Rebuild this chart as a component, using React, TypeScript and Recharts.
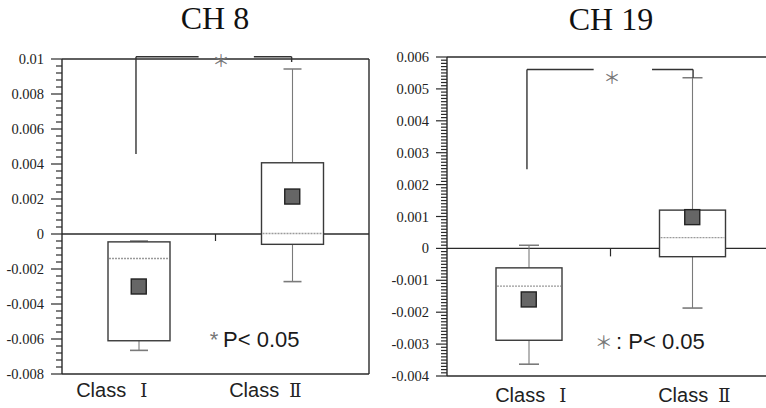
import React from 'react';
import {
  ComposedChart,
  Bar,
  Scatter,
  XAxis,
  YAxis,
  ReferenceLine,
  ReferenceDot,
  CartesianGrid,
} from 'recharts';

// ---------- data ----------
const categories = ['Class Ⅰ', 'Class Ⅱ'];
const categoryCenters = [0.5, 1.5];

// CH 8
const ch8Min = [-0.00665, -0.00272];
const ch8Q1 = [-0.0061, -0.00059];
const ch8Median = [-0.0014, 0.00003];
const ch8Q3 = [-0.00045, 0.00407];
const ch8Max = [-0.0004, 0.00943];
const ch8Mean = [-0.003, 0.00214];
const ch8Ticks = [0.01, 0.008, 0.006, 0.004, 0.002, 0, -0.002, -0.004, -0.006, -0.008];
const ch8TickLabels = ['0.01', '0.008', '0.006', '0.004', '0.002', '0', '-0.002', '-0.004', '-0.006', '-0.008'];

// CH 19
const ch19Min = [-0.00363, -0.00187];
const ch19Q1 = [-0.00288, -0.00026];
const ch19Median = [-0.00118, 0.00034];
const ch19Q3 = [-0.00061, 0.0012];
const ch19Max = [0.0001, 0.00535];
const ch19Mean = [-0.0016, 0.00098];
const ch19Ticks = [0.006, 0.005, 0.004, 0.003, 0.002, 0.001, 0, -0.001, -0.002, -0.003, -0.004];
const ch19TickLabels = ['0.006', '0.005', '0.004', '0.003', '0.002', '0.001', '0', '-0.001', '-0.002', '-0.003', '-0.004'];

const DARK = '#2a2a2a';
const GRAY = '#7a7a7a';

function buildRows(mn: number[], q1: number[], md: number[], q3: number[], mx: number[], mean: number[]) {
  return categories.map((name, i) => ({
    name,
    pos: categoryCenters[i],
    min: mn[i],
    q1: q1[i],
    median: md[i],
    q3: q3[i],
    max: mx[i],
    mean: mean[i],
    range: [mn[i], mx[i]],
  }));
}

function withMinor(majors: number[], sub: number) {
  const sorted = [...majors].sort((a, b) => a - b);
  const out: number[] = [];
  for (let i = 0; i < sorted.length - 1; i++) {
    const a = sorted[i];
    const b = sorted[i + 1];
    for (let k = 0; k < sub; k++) out.push(a + ((b - a) * k) / sub);
  }
  out.push(sorted[sorted.length - 1]);
  return out;
}

const YTick = (props: any) => {
  const { x, y, payload, majors, labels } = props;
  const v = payload.value;
  const idx = majors.findIndex((m: number) => Math.abs(m - v) < 1e-9);
  const major = idx >= 0;
  return (
    <g>
      <line x1={x - (major ? 11 : 6)} x2={x} y1={y} y2={y} stroke={DARK} strokeWidth={1.2} />
      {major && (
        <text
          x={x - 18}
          y={y}
          dy="0.35em"
          textAnchor="end"
          fontFamily="'Liberation Serif', 'Times New Roman', serif"
          fontSize={14.5}
          fill="#222"
        >
          {labels[idx]}
        </text>
      )}
    </g>
  );
};

const XTick = (props: any) => {
  const { x, y, payload, dx, dy } = props;
  const [word, num] = String(payload.value).split(' ');
  return (
    <text x={x + dx} y={y + dy} textAnchor="middle" fontFamily="Liberation Sans" fontSize={20} fill="#222">
      {word}
      <tspan dx={num === 'Ⅰ' ? 14 : 10} fontFamily="DejaVu Serif" fontSize={18}>
        {num}
      </tspan>
    </text>
  );
};

const BoxShape = (props: any) => {
  const { x, y, width, height, payload, capW } = props;
  const top = Math.min(y, y + height);
  const bot = Math.max(y, y + height);
  const k = (bot - top) / (payload.max - payload.min);
  const py = (v: number) => top + (payload.max - v) * k;
  const cx = x + width / 2;
  return (
    <g>
      <line x1={cx} x2={cx} y1={py(payload.max)} y2={py(payload.q3)} stroke={GRAY} strokeWidth={1.1} />
      <line x1={cx} x2={cx} y1={py(payload.q1)} y2={py(payload.min)} stroke={GRAY} strokeWidth={1.1} />
      <line x1={cx - capW / 2} x2={cx + capW / 2} y1={py(payload.max)} y2={py(payload.max)} stroke={GRAY} strokeWidth={1.6} />
      <line x1={cx - capW / 2} x2={cx + capW / 2} y1={py(payload.min)} y2={py(payload.min)} stroke={GRAY} strokeWidth={1.6} />
      <rect
        x={x}
        y={py(payload.q3)}
        width={width}
        height={py(payload.q1) - py(payload.q3)}
        fill="#fff"
        stroke="#3a3a3a"
        strokeWidth={1.4}
      />
      <line
        x1={x + 1}
        x2={x + width - 1}
        y1={py(payload.median)}
        y2={py(payload.median)}
        stroke="#9a9a9a"
        strokeWidth={1.3}
        strokeDasharray="2 1"
      />
    </g>
  );
};

const MeanShape = (props: any) => {
  const { cx, cy, size } = props;
  return (
    <rect x={cx - size / 2} y={cy - size / 2} width={size} height={size} fill="#666" stroke="#222" strokeWidth={1.4} />
  );
};

type Seg = [number, number, number, number];

type PanelProps = {
  rows: any[];
  width: number;
  margin: { top: number; right: number; bottom: number; left: number };
  domain: [number, number];
  majors: number[];
  labels: string[];
  minorSub: number;
  barSize: number;
  capW: number;
  meanSize: number;
  xLabelDx: number;
  xLabelDy: number;
  bracket: Seg[];
  dividerTo: number;
  rightFrame: boolean;
  topStar: { x: number; y: number; size: number };
  note: {
    starX: number;
    starY: number;
    starText: string;
    starFont: string;
    starSize: number;
    starAnchor: 'start' | 'middle';
    starBaseline: 'auto' | 'central';
    textX: number;
    textY: number;
    text: string;
  };
};

const Panel = (p: PanelProps) => {
  const allTicks = withMinor(p.majors, p.minorSub);
  return (
    <ComposedChart width={p.width} height={408} data={p.rows} margin={p.margin}>
      <CartesianGrid
        horizontalValues={[0, p.domain[1]]}
        vertical={false}
        stroke={DARK}
        strokeWidth={1.3}
        strokeDasharray=""
      />
      <XAxis
        dataKey="name"
        type="category"
        tickSize={0}
        tickMargin={0}
        tickLine={false}
        interval={0}
        height={30}
        axisLine={{ stroke: DARK, strokeWidth: 1.4 }}
        tick={(tp: any) => <XTick {...tp} dx={p.xLabelDx} dy={p.xLabelDy} />}
      />
      <XAxis
        xAxisId="n"
        dataKey="pos"
        type="number"
        domain={[0, 2]}
        ticks={[0, 1, 2]}
        hide
        allowDataOverflow
      />
      <YAxis
        type="number"
        domain={p.domain}
        allowDataOverflow
        ticks={allTicks}
        interval={0}
        tickSize={0}
        tickMargin={0}
        tickLine={false}
        width={55}
        axisLine={{ stroke: DARK, strokeWidth: 1.4 }}
        tick={(tp: any) => <YTick {...tp} majors={p.majors} labels={p.labels} />}
      />
      {p.rightFrame && <ReferenceLine xAxisId="n" x={2} stroke={DARK} strokeWidth={1.4} />}
      <ReferenceLine
        xAxisId="n"
        segment={[
          { x: 1, y: 0 },
          { x: 1, y: p.dividerTo },
        ]}
        stroke={DARK}
        strokeWidth={1.2}
      />
      <Bar
        dataKey="range"
        barSize={p.barSize}
        isAnimationActive={false}
        shape={(bp: any) => <BoxShape {...bp} capW={p.capW} />}
      />
      <Scatter
        dataKey="mean"
        isAnimationActive={false}
        shape={(sp: any) => <MeanShape {...sp} size={p.meanSize} />}
      />
      {p.bracket.map((s, i) => (
        <ReferenceLine
          key={i}
          xAxisId="n"
          ifOverflow="visible"
          segment={[
            { x: s[0], y: s[1] },
            { x: s[2], y: s[3] },
          ]}
          stroke="#333"
          strokeWidth={1.4}
        />
      ))}
      <ReferenceDot
        xAxisId="n"
        x={p.topStar.x}
        y={p.topStar.y}
        ifOverflow="visible"
        shape={(dp: any) => (
          <text
            x={dp.cx}
            y={dp.cy}
            textAnchor="middle"
            dominantBaseline="central"
            fontFamily="Noto Sans CJK JP"
            fontSize={p.topStar.size}
            fill="#777"
          >
            ＊
          </text>
        )}
      />
      <ReferenceDot
        xAxisId="n"
        x={p.note.starX}
        y={p.note.starY}
        shape={(dp: any) => (
          <text
            x={dp.cx}
            y={dp.cy}
            textAnchor={p.note.starAnchor}
            dominantBaseline={p.note.starBaseline}
            fontFamily={p.note.starFont}
            fontSize={p.note.starSize}
            fill="#777"
          >
            {p.note.starText}
          </text>
        )}
      />
      <ReferenceDot
        xAxisId="n"
        x={p.note.textX}
        y={p.note.textY}
        shape={(dp: any) => (
          <text x={dp.cx} y={dp.cy} fontFamily="Liberation Sans" fontSize={22} fill="#1a1a1a">
            {p.note.text}
          </text>
        )}
      />
    </ComposedChart>
  );
};

const ch8Rows = buildRows(ch8Min, ch8Q1, ch8Median, ch8Q3, ch8Max, ch8Mean);
const ch19Rows = buildRows(ch19Min, ch19Q1, ch19Median, ch19Q3, ch19Max, ch19Mean);

export default function App() {
  return (
    <div
      style={{
        position: 'absolute',
        left: 0,
        top: 0,
        width: 766,
        height: 408,
        overflow: 'hidden',
        background: '#fff',
      }}
    >
      <div style={{ position: 'absolute', left: 0, top: 0 }}>
        <Panel
          rows={ch8Rows}
          width={383}
          margin={{ top: 59, right: 14, bottom: 4, left: 7 }}
          domain={[-0.008, 0.01]}
          majors={ch8Ticks}
          labels={ch8TickLabels}
          minorSub={5}
          barSize={62}
          capW={18}
          meanSize={15}
          xLabelDx={-27}
          xLabelDy={23}
          bracket={[
            [0.482, 0.01013, 0.482, 0.00457],
            [0.482, 0.01013, 0.89, 0.01013],
            [1.25, 0.01013, 1.496, 0.01013],
            [1.496, 0.01013, 1.496, 0.00983],
          ]}
          dividerTo={-0.0004}
          rightFrame={true}
          topStar={{ x: 1.036, y: 0.01, size: 17 }}
          note={{
            starX: 0.962,
            starY: -0.00646,
            starText: '*',
            starFont: 'Liberation Sans',
            starSize: 22,
            starAnchor: 'start',
            starBaseline: 'auto',
            textX: 1.049,
            textY: -0.00646,
            text: 'P< 0.05',
          }}
        />
      </div>
      <div style={{ position: 'absolute', left: 383, top: 0 }}>
        <Panel
          rows={ch19Rows}
          width={400}
          margin={{ top: 57, right: 9, bottom: 2, left: 9 }}
          domain={[-0.004, 0.006]}
          majors={ch19Ticks}
          labels={ch19TickLabels}
          minorSub={10}
          barSize={66}
          capW={20}
          meanSize={15}
          xLabelDx={2}
          xLabelDy={26}
          bracket={[
            [0.489, 0.00561, 0.489, 0.00248],
            [0.489, 0.00561, 0.897, 0.00561],
            [1.254, 0.00561, 1.505, 0.00561],
            [1.505, 0.00561, 1.505, 0.00535],
          ]}
          dividerTo={-0.00025}
          rightFrame={false}
          topStar={{ x: 1.009, y: 0.00539, size: 17 }}
          note={{
            starX: 0.958,
            starY: -0.00289,
            starText: '＊',
            starFont: 'Noto Sans CJK JP',
            starSize: 18,
            starAnchor: 'middle',
            starBaseline: 'central',
            textX: 1.034,
            textY: -0.00314,
            text: ': P< 0.05',
          }}
        />
      </div>
      <svg
        width={766}
        height={408}
        style={{ position: 'absolute', left: 0, top: 0, pointerEvents: 'none' }}
      >
        <text x={215} y={29} textAnchor="middle" fontFamily="Liberation Serif" fontSize={32} fill="#111">
          CH 8
        </text>
        <text x={611} y={30} textAnchor="middle" fontFamily="Liberation Serif" fontSize={32} fill="#111">
          CH 19
        </text>
      </svg>
    </div>
  );
}
